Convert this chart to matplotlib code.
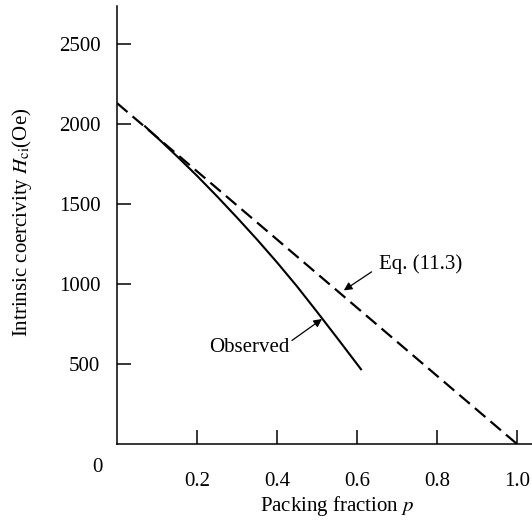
import matplotlib
matplotlib.use("Agg")
from matplotlib import pyplot as plt

p_obs = [0.07, 0.1, 0.15, 0.2, 0.25, 0.3, 0.35, 0.4, 0.45, 0.5, 0.55, 0.61]
hci_obs = [1985, 1916, 1798, 1676, 1548, 1415, 1278, 1135, 985, 826, 664, 467]
p_eq = [0.0, 1.0]
hci_eq = [2130, 0]
xticks = [0.2, 0.4, 0.6, 0.8, 1.0]
xticklabels = ['0.2', '0.4', '0.6', '0.8', '1.0']
yticks = [500, 1000, 1500, 2000, 2500]

plt.rcParams['font.family'] = ['Liberation Serif', 'DejaVu Serif']
plt.rcParams['mathtext.fontset'] = 'stix'

fig = plt.figure(figsize=(5.32, 5.22), dpi=100)
ax = fig.add_axes([117 / 532, 78 / 522, 415 / 532, 438 / 522])

ax.plot(p_obs, hci_obs, color='black', lw=1.5)
ax.plot(p_eq, hci_eq, color='black', lw=1.6, dashes=(6.2, 3))

ax.set_xlim(0, 1.0375)
ax.set_ylim(0, 2737)
ax.set_xticks(xticks)
ax.set_xticklabels(xticklabels)
ax.set_yticks(yticks)
ax.tick_params(direction='in', length=10, width=1.1, labelsize=15)
ax.tick_params(axis='x', pad=20)
ax.tick_params(axis='y', pad=12)
for s in ['top', 'right']:
    ax.spines[s].set_visible(False)
for s in ['left', 'bottom']:
    ax.spines[s].set_linewidth(1.1)

ax.annotate('0', xy=(0, 0), xytext=(-20, -24), textcoords='offset pixels',
            ha='center', va='center', fontsize=15)

ax.annotate('Observed', xy=(0.5125, 781), xytext=(0.33, 605),
            ha='center', va='center', fontsize=15,
            arrowprops=dict(arrowstyle='-|>', color='black', lw=0.9,
                            shrinkA=0, shrinkB=0, mutation_scale=12,
                            relpos=(1.0, 0.75)))
ax.annotate('Eq. (11.3)', xy=(0.567, 960), xytext=(0.655, 1125),
            ha='left', va='center', fontsize=15,
            arrowprops=dict(arrowstyle='-|>', color='black', lw=0.9,
                            shrinkA=4, shrinkB=0, mutation_scale=12,
                            relpos=(0.0, 0.35)))

fig.text(337 / 532, 1 - 506 / 522, 'Packing fraction $p$',
         ha='center', va='center', fontsize=15)
fig.text(22 / 532, 1 - 222 / 522,
         r'Intrinsic coercivity $H_{\mathrm{ci}}$(Oe)',
         ha='center', va='center', rotation=90, fontsize=15)

fig.savefig('out.png', dpi=100)
